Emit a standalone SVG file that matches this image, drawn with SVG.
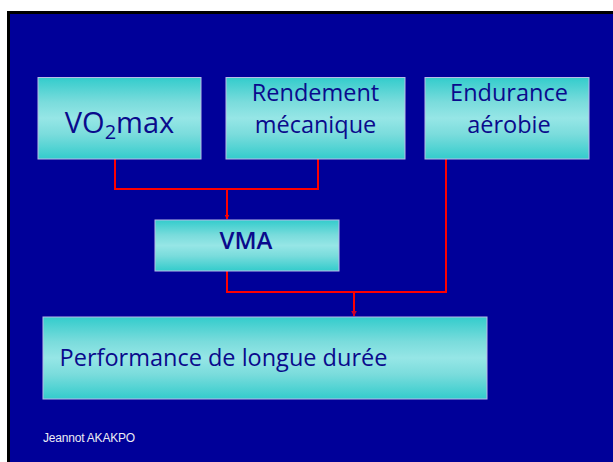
<svg xmlns="http://www.w3.org/2000/svg" width="613" height="462" viewBox="0 0 613 462">
  <defs>
    <linearGradient id="boxFill" x1="0" y1="0" x2="0" y2="1">
      <stop offset="0" stop-color="#33cccc"/>
      <stop offset="0.3" stop-color="#7adcdc"/>
      <stop offset="0.5" stop-color="#96e6e6"/>
      <stop offset="0.7" stop-color="#7adcdc"/>
      <stop offset="1" stop-color="#33cccc"/>
    </linearGradient>
    <marker id="arrow" viewBox="0 0 10 10" refX="9" refY="5" markerWidth="5" markerHeight="5" orient="auto" markerUnits="userSpaceOnUse">
      <path d="M0,0 L10,5 L0,10 z" fill="#ff0000"/>
    </marker>
    <marker id="arrowDark" viewBox="0 0 10 10" refX="9" refY="5" markerWidth="6" markerHeight="6" orient="auto" markerUnits="userSpaceOnUse">
      <path d="M0,0 L10,5 L0,10 z" fill="#d0002a"/>
    </marker>
  </defs>
  <style>
    .box { fill: url(#boxFill); stroke: #b8bce8; stroke-width: 1; }
    .label { font-family: "Open Sans", "Noto Sans", sans-serif; fill: #0a0a8c; text-anchor: middle; }
    .link { fill: none; stroke: #ff0000; stroke-width: 2; }
    .footer { font-family: "Liberation Sans", Arial, sans-serif; font-size: 12px; fill: #ececf4; letter-spacing: -0.2px; }
  </style>

  <!-- slide background with dark frame -->
  <rect x="0" y="0" width="613" height="462" fill="#ffffff"/>
  <rect x="7" y="11" width="606" height="451" fill="#000000"/>
  <rect x="10" y="14" width="603" height="448" fill="#000099"/>

  <!-- connectors -->
  <g id="connectors">
    <polyline class="link" points="115,159 115,189 318,189 318,159"/>
    <line class="link" x1="227" y1="189" x2="227" y2="219" marker-end="url(#arrow)"/>
    <polyline class="link" points="227,271 227,292 446,292 446,159"/>
    <line class="link" x1="354" y1="292" x2="354" y2="316" stroke="#d0002a" marker-end="url(#arrowDark)"/>
  </g>

  <g id="vo2max">
    <rect class="box" x="38" y="77.5" width="163" height="81.5"/>
    <text class="label" x="119.5" y="133" font-size="29">VO<tspan font-size="20" dy="6">2</tspan><tspan dy="-6">max</tspan></text>
  </g>

  <g id="rendement">
    <rect class="box" x="226" y="77.5" width="179" height="81.5"/>
    <text class="label" x="315.5" y="101" font-size="23.5">Rendement</text>
    <text class="label" x="315.5" y="133" font-size="23.5">mécanique</text>
  </g>

  <g id="endurance">
    <rect class="box" x="425" y="77.5" width="164" height="81.5"/>
    <text class="label" x="509" y="101" font-size="23.5">Endurance</text>
    <text class="label" x="509" y="133" font-size="23.5">aérobie</text>
  </g>

  <g id="vma">
    <rect class="box" x="155" y="220" width="184" height="51"/>
    <text class="label" x="246" y="249" font-size="24" font-weight="600">VMA</text>
  </g>

  <g id="performance">
    <rect class="box" x="43" y="317" width="444" height="82"/>
    <text class="label" x="223.5" y="366" font-size="23.5">Performance de longue durée</text>
  </g>

  <text class="footer" x="43" y="442">Jeannot AKAKPO</text>
</svg>
